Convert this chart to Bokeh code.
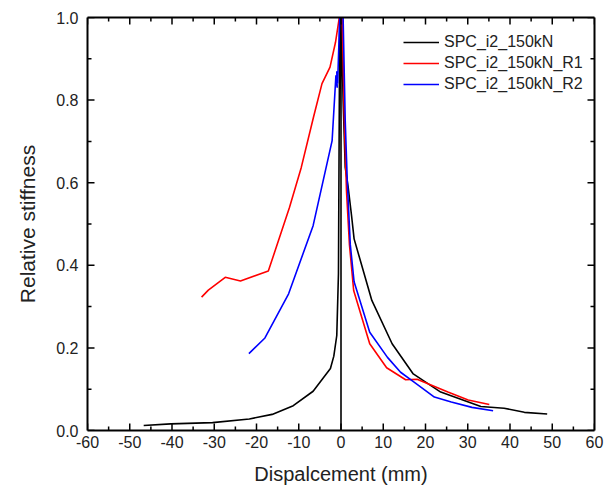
from bokeh.plotting import figure
from bokeh.models import (Range1d, LinearAxis, SingleIntervalTicker, CustomJSTickFormatter,
                          Legend, LegendItem)
from bokeh.embed import file_html
from bokeh.resources import INLINE

# Data
black_x = [-46.7, -40.3, -30.4, -21.7, -16.3, -11.3, -6.6, -2.5, -1.7, -1.0, -0.6, -0.3,
           0.0, 0.0, 0.0, 0.1, 0.5, 1.0, 1.7, 2.5, 3.1, 7.3, 12.1, 17.1, 23.6, 33.1, 38.6, 43.4, 48.8]
black_y = [0.012, 0.016, 0.019, 0.028, 0.039, 0.06, 0.095, 0.15, 0.18, 0.23, 0.38, 1.0,
           1.0, 0.0, 1.0, 1.0, 0.8, 0.637, 0.589, 0.52, 0.464, 0.315, 0.21, 0.137, 0.093, 0.058, 0.054, 0.044, 0.04]

red_x = [-33.0, -31.4, -27.4, -23.8, -17.2, -12.2, -9.4, -6.5, -4.5, -2.6, -1.3, -0.4,
         0.3, 0.8, 1.3, 2.0, 3.0, 6.8, 10.8, 15.3, 18.0, 21.3, 25.3, 30.1, 35.1]
red_y = [0.323, 0.34, 0.371, 0.362, 0.386, 0.54, 0.637, 0.759, 0.84, 0.88, 0.94, 1.0,
         1.0, 0.75, 0.58, 0.45, 0.339, 0.21, 0.152, 0.123, 0.124, 0.11, 0.093, 0.074, 0.063]

blue_x = [-21.8, -18.0, -12.4, -6.6, -2.1, -1.2, -0.9, -1.0, -0.8, -0.3,
          0.5, 1.0, 1.5, 2.2, 3.1, 6.8, 11.0, 14.1, 17.3, 22.1, 26.1, 31.0, 36.0]
blue_y = [0.186, 0.224, 0.331, 0.496, 0.702, 0.86, 0.83, 0.87, 0.84, 1.0,
          1.0, 0.75, 0.6, 0.45, 0.36, 0.238, 0.177, 0.141, 0.117, 0.081, 0.069, 0.056, 0.048]

series_names = ["SPC_i2_150kN", "SPC_i2_150kN_R1", "SPC_i2_150kN_R2"]

# Tick values
x_major = [-60, -50, -40, -30, -20, -10, 0, 10, 20, 30, 40, 50, 60]
x_minor = [-55, -45, -35, -25, -15, -5, 5, 15, 25, 35, 45, 55]
y_major = [0.0, 0.2, 0.4, 0.6, 0.8, 1.0]
y_minor = [0.1, 0.3, 0.5, 0.7, 0.9]
X_MIN, X_MAX, Y_MIN, Y_MAX = -60, 60, 0.0, 1.0

FONT = "Liberation Sans"
TXT = "#222222"
FW, FH = 507, 413

p = figure(frame_width=FW, frame_height=FH, output_backend="svg", toolbar_location=None,
           x_range=Range1d(X_MIN, X_MAX), y_range=Range1d(Y_MIN, Y_MAX),
           x_axis_label="Dispalcement (mm)", y_axis_label="Relative stiffness",
           min_border_left=87, min_border_right=10, min_border_top=17, min_border_bottom=62)
p.xgrid.visible = False
p.ygrid.visible = False
p.outline_line_color = None
p.background_fill_color = "white"
p.border_fill_color = "white"

r1 = p.line(black_x, black_y, line_color="black", line_width=1.6)
r2 = p.line(red_x, red_y, line_color="red", line_width=1.6)
r3 = p.line(blue_x, blue_y, line_color="blue", line_width=1.6)

# inward ticks on all four sides (pixel lengths converted to data units)
px_x = (X_MAX - X_MIN) / FW
px_y = (Y_MAX - Y_MIN) / FH
def vticks(xs, y0, length_px, direction):
    p.segment(x0=xs, y0=[y0] * len(xs), x1=xs, y1=[y0 + direction * length_px * px_y] * len(xs),
              line_color="black", line_width=1.5)
def hticks(ys, x0, length_px, direction):
    p.segment(x0=[x0] * len(ys), y0=ys, x1=[x0 + direction * length_px * px_x] * len(ys), y1=ys,
              line_color="black", line_width=1.5)

vticks(x_major, Y_MIN, 7, 1)
vticks(x_minor, Y_MIN, 4, 1)
vticks(x_major, Y_MAX, 7, -1)
vticks(x_minor, Y_MAX, 4, -1)
hticks(y_major, X_MIN, 7, 1)
hticks(y_minor, X_MIN, 4, 1)
hticks(y_major, X_MAX, 7, -1)
hticks(y_minor, X_MAX, 4, -1)

def style_axis(ax):
    ax.axis_line_width = 2
    ax.axis_line_color = "black"
    ax.major_tick_in = 0
    ax.major_tick_out = 0
    ax.minor_tick_in = 0
    ax.minor_tick_out = 0
    ax.major_tick_line_color = None
    ax.minor_tick_line_color = None
    ax.major_label_text_font = FONT
    ax.major_label_text_font_size = "16px"
    ax.major_label_text_color = TXT
    ax.axis_label_text_font = FONT
    ax.axis_label_text_font_size = "20px"
    ax.axis_label_text_font_style = "normal"
    ax.axis_label_text_color = TXT

p.xaxis.ticker = SingleIntervalTicker(interval=10, num_minor_ticks=2)
p.yaxis.ticker = SingleIntervalTicker(interval=0.2, num_minor_ticks=2)
p.xaxis.formatter = CustomJSTickFormatter(code="return String(Math.round(tick));")
p.yaxis.formatter = CustomJSTickFormatter(code="return tick.toFixed(1);")
style_axis(p.xaxis[0])
style_axis(p.yaxis[0])
p.yaxis.axis_label_text_font_size = "21px"
p.xaxis.major_label_standoff = 5
p.yaxis.major_label_standoff = 9
p.xaxis.axis_label_standoff = 12
p.yaxis.axis_label_standoff = 14

top = LinearAxis(ticker=SingleIntervalTicker(interval=10, num_minor_ticks=2),
                 formatter=CustomJSTickFormatter(code="return ''"))
right = LinearAxis(ticker=SingleIntervalTicker(interval=0.2, num_minor_ticks=2),
                   formatter=CustomJSTickFormatter(code="return ''"))
for ax in (top, right):
    style_axis(ax)
    ax.major_label_standoff = 0
    ax.major_label_text_font_size = "1px"
p.add_layout(top, "above")
p.add_layout(right, "right")

legend = Legend(items=[LegendItem(label=series_names[0], renderers=[r1]),
                       LegendItem(label=series_names[1], renderers=[r2]),
                       LegendItem(label=series_names[2], renderers=[r3])],
                location=(316, 337))
legend.border_line_color = None
legend.background_fill_alpha = 0
legend.label_text_font = FONT
legend.label_text_font_size = "16px"
legend.label_text_color = TXT
legend.glyph_width = 36
legend.glyph_height = 16
legend.label_height = 16
legend.spacing = 3
legend.padding = 4
legend.margin = 0
legend.label_standoff = 5
p.add_layout(legend)

open("out.html", "w").write(file_html(p, INLINE))
